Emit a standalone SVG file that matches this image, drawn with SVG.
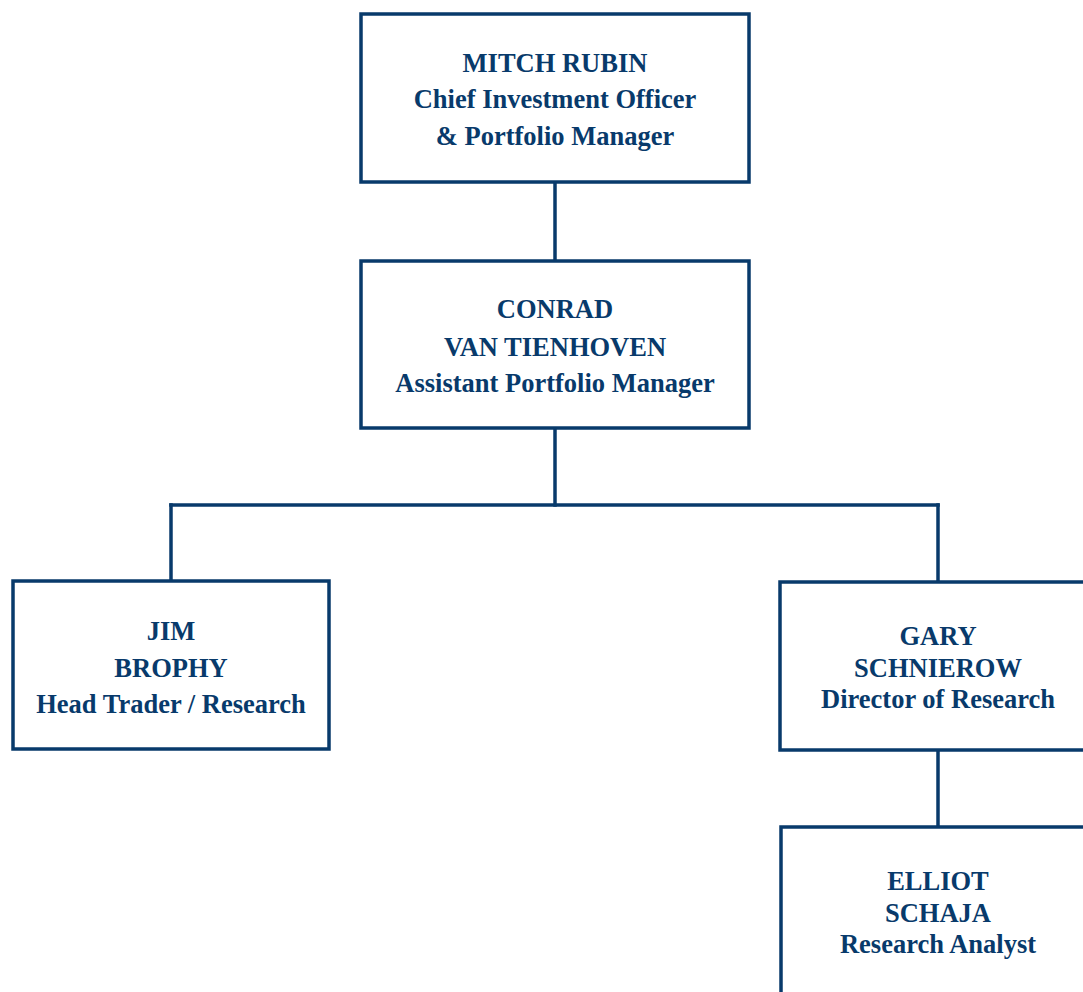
<svg xmlns="http://www.w3.org/2000/svg" width="1083" height="992" viewBox="0 0 1083 992">
<style>
.box{fill:#ffffff;stroke:#083A6B;stroke-width:3.5}
.conn{fill:none;stroke:#083A6B;stroke-width:3.5;stroke-linecap:square}
text{font-family:"Liberation Serif","Times New Roman",serif;font-weight:bold;font-size:26.5px;fill:#083A6B;text-anchor:middle}
</style>
<rect width="1083" height="992" fill="#ffffff"/>
<g id="connectors">
<path class="conn" d="M555,184 V259"/>
<path class="conn" d="M555,430 V505"/>
<path class="conn" d="M171,505 H938"/>
<path class="conn" d="M171,505 V579"/>
<path class="conn" d="M938,505 V580"/>
<path class="conn" d="M938,751 V825"/>
</g>
<g id="mitch">
<rect class="box" x="361" y="14" width="388" height="168"/>
<text x="555" y="72">MITCH RUBIN</text>
<text x="555" y="108">Chief Investment Officer</text>
<text x="555" y="145">&amp; Portfolio Manager</text>
</g>
<g id="conrad">
<rect class="box" x="361" y="261" width="388" height="167"/>
<text x="555" y="318">CONRAD</text>
<text x="555" y="356">VAN TIENHOVEN</text>
<text x="555" y="392">Assistant Portfolio Manager</text>
</g>
<g id="jim">
<rect class="box" x="13" y="581" width="316" height="168"/>
<text x="171" y="640">JIM</text>
<text x="171" y="677">BROPHY</text>
<text x="171" y="713">Head Trader / Research</text>
</g>
<g id="gary">
<rect class="box" x="780" y="582" width="318" height="168"/>
<text x="938" y="645">GARY</text>
<text x="938" y="677">SCHNIEROW</text>
<text x="938" y="708">Director of Research</text>
</g>
<g id="elliot">
<rect class="box" x="781" y="827" width="318" height="180"/>
<text x="938" y="890">ELLIOT</text>
<text x="938" y="922">SCHAJA</text>
<text x="938" y="953">Research Analyst</text>
</g>
</svg>
